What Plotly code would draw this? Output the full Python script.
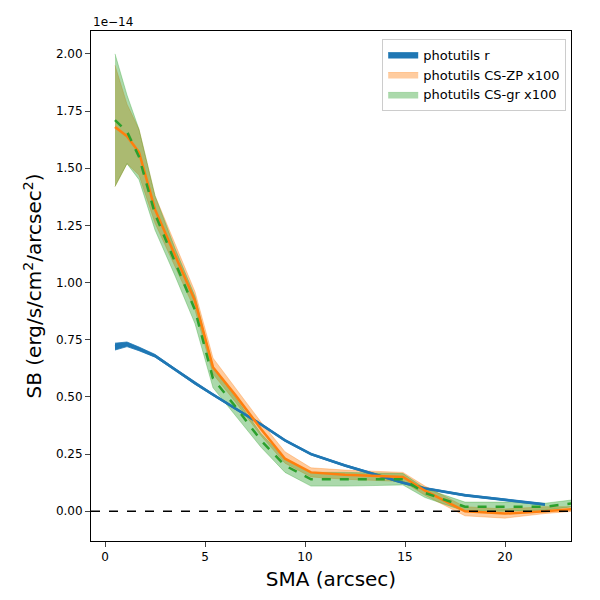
import plotly.graph_objects as go

sma = [0.5, 1.1, 1.7, 2.5, 3.5, 4.5, 5.4, 6.5, 7.8, 9.0, 10.3, 12.0, 14.9, 16.0, 18.0, 20.0, 22.0, 23.4]
r_sb = [0.72, 0.73, 0.71, 0.68, 0.62, 0.56, 0.51, 0.45, 0.38, 0.31, 0.25, 0.20, 0.125, 0.10, 0.07, 0.05, 0.03, None]
r_err = [0.015, 0.01, 0.008, 0.006, 0.005, 0.005, 0.004, 0.004, 0.004, 0.004, 0.004, 0.004, 0.004, 0.004, 0.004, 0.004, 0.004, None]
zp_sb = [1.68, 1.64, 1.57, 1.32, 1.12, 0.92, 0.63, 0.51, 0.36, 0.23, 0.17, 0.16, 0.15, 0.09, 0.0, -0.01, 0.0, 0.01]
zp_lo = [1.42, 1.52, 1.47, 1.26, 1.07, 0.88, 0.60, 0.48, 0.33, 0.21, 0.15, 0.14, 0.13, 0.07, -0.02, -0.03, -0.01, 0.0]
zp_hi = [1.95, 1.78, 1.67, 1.38, 1.17, 0.96, 0.67, 0.54, 0.39, 0.26, 0.19, 0.18, 0.17, 0.11, 0.02, 0.01, 0.02, 0.02]
gr_sb = [1.71, 1.66, 1.55, 1.30, 1.09, 0.88, 0.58, 0.46, 0.31, 0.20, 0.14, 0.14, 0.14, 0.08, 0.02, 0.02, 0.02, 0.035]
gr_lo = [1.42, 1.52, 1.45, 1.23, 1.03, 0.82, 0.54, 0.42, 0.28, 0.17, 0.11, 0.11, 0.115, 0.06, 0.0, 0.0, 0.005, 0.02]
gr_hi = [2.00, 1.82, 1.67, 1.38, 1.15, 0.94, 0.63, 0.50, 0.34, 0.23, 0.17, 0.17, 0.165, 0.10, 0.04, 0.04, 0.035, 0.05]
yticks = [0.0, 0.25, 0.5, 0.75, 1.0, 1.25, 1.5, 1.75, 2.0]

fig = go.Figure()
def band(x, lo, hi, color, name):
    fig.add_trace(go.Scatter(x=x, y=lo, mode="lines", line=dict(width=0.8, color=color), showlegend=False, hoverinfo="skip"))
    fig.add_trace(go.Scatter(x=x, y=hi, mode="lines", line=dict(width=0.8, color=color), fill="tonexty", fillcolor=color, name=name))

rx = sma[:-1]
rlo = [v - e for v, e in zip(r_sb[:-1], r_err[:-1])]
rhi = [v + e for v, e in zip(r_sb[:-1], r_err[:-1])]
band(rx, rlo, rhi, "rgba(31,119,180,1)", "photutils r")
band(sma, zp_lo, zp_hi, "rgba(255,127,14,0.4)", "photutils CS-ZP x100")
band(sma, gr_lo, gr_hi, "rgba(44,160,44,0.4)", "photutils CS-gr x100")
fig.add_trace(go.Scatter(x=rx, y=r_sb[:-1], mode="lines", line=dict(color="#1f77b4", width=2.5), showlegend=False))
fig.add_trace(go.Scatter(x=sma, y=zp_sb, mode="lines", line=dict(color="#ff7f0e", width=2.5), showlegend=False))
fig.add_trace(go.Scatter(x=sma, y=gr_sb, mode="lines", line=dict(color="#2ca02c", width=2.5, dash="dash"), showlegend=False))
fig.add_hline(y=0, line=dict(color="black", width=1.5, dash="dash"))

ax = dict(showline=True, linecolor="black", mirror=True, ticks="outside", showgrid=False, zeroline=False,
          tickfont=dict(size=12, color="black"), linewidth=1, automargin=False)
fig.update_layout(
    width=600, height=600, plot_bgcolor="white", paper_bgcolor="white",
    margin=dict(l=83, r=37, t=23, b=67),
    font=dict(family="DejaVu Sans", color="black"),
    xaxis=dict(ax, range=[-0.7, 23.3], tickvals=[0, 5, 10, 15, 20],
               title=dict(text="SMA (arcsec)", font=dict(size=20), standoff=8)),
    yaxis=dict(ax, range=[-0.13, 2.1], tickvals=yticks, ticktext=[f"{v:.2f}" for v in yticks],
               title=dict(text="SB (erg/s/cm<sup>2</sup>/arcsec<sup>2</sup>)", font=dict(size=20), standoff=8)),
    legend=dict(x=0.99, y=0.985, xanchor="right", yanchor="top", bordercolor="#ccc", borderwidth=1,
                traceorder="normal", font=dict(size=13), bgcolor="rgba(255,255,255,0.8)"),
    annotations=[dict(text="1e−14", x=0, y=1.0, xref="paper", yref="paper", xanchor="left", yanchor="bottom",
                      showarrow=False, font=dict(size=12))],
)
fig.write_html("out.html")
